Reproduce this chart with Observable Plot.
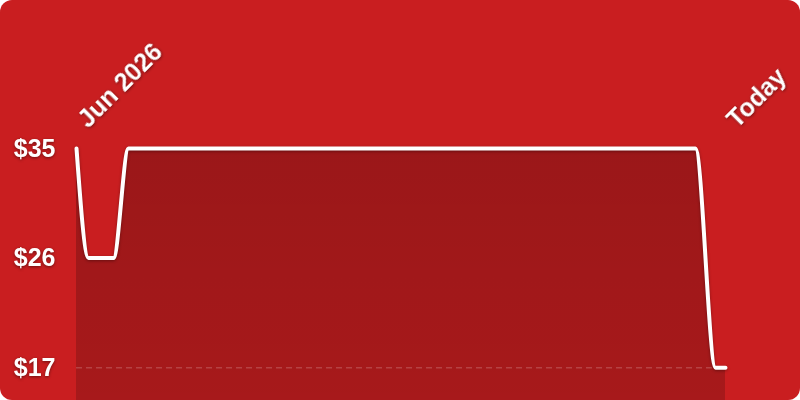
<!DOCTYPE html>
<html>
<head>
<meta charset="utf-8">
<script src="https://cdn.jsdelivr.net/npm/d3@7"></script>
<script src="https://cdn.jsdelivr.net/npm/@observablehq/plot@0.6"></script>
<style>
  html, body { margin: 0; padding: 0; background: #ffffff; overflow: hidden; }
  #card { width: 800px; height: 400px; background: #c91e20; border-radius: 12px; overflow: hidden; position: relative; }
  #card svg { display: block; }
  #card svg text { filter: drop-shadow(0px 1px 1.5px rgba(0,0,0,0.45)); }
  .price-line { filter: drop-shadow(0px 1px 1.5px rgba(0,0,0,0.35)); }
</style>
</head>
<body>
<div id="card"></div>
<script>
// Data (days from start, price in $)
const days = [0, 1.2, 3.7, 5.2, 61.9, 63.9, 64.9];
const prices = [35, 26, 26, 35, 35, 17, 17];
const tickDays = [0, 64.9];
const tickLabels = ["Jun 2026", "Today"];
const yTicks = [17, 26, 35];
const baselinePrice = [17];
const yMin = 14.3;

const data = days.map((d, i) => ({day: d, price: prices[i]}));
const xTicks = tickDays.map((d, i) => ({day: d, label: tickLabels[i], price: 35}));

const chart = Plot.plot({
  width: 800,
  height: 400,
  marginLeft: 76,
  marginRight: 75,
  marginTop: 148,
  marginBottom: 0,
  style: {background: "transparent", color: "white", fontFamily: "'Liberation Sans', Arial, sans-serif"},
  x: {domain: [tickDays[0], tickDays[1]], axis: null},
  y: {domain: [yMin, 35], ticks: yTicks, tickFormat: d => "$" + d, tickSize: 0, tickPadding: 21, label: null},
  marks: [
    Plot.areaY(data, {x: "day", y1: yMin, y2: "price", curve: "monotone-x", fill: "url(#areaGrad)"}),
    Plot.ruleY(baselinePrice, {stroke: "white", strokeOpacity: 0.18, strokeWidth: 1.5, strokeDasharray: "6,4"}),
    Plot.lineY(data, {x: "day", y: "price", curve: "monotone-x", stroke: "white", strokeWidth: 4, className: "price-line"}),
    Plot.axisY({ticks: yTicks, tickFormat: d => "$" + d, tickSize: 0, tickPadding: 21, fontSize: 25, fontWeight: "bold", fill: "white", label: null}),
    Plot.text(xTicks, {x: "day", y: "price", text: "label", rotate: -45, textAnchor: "start", dy: -25, dx: 6, fontSize: 25, fontWeight: "bold", fill: "white"})
  ]
});

// gradient for the area fill
const ns = "http://www.w3.org/2000/svg";
const defs = document.createElementNS(ns, "defs");
const grad = document.createElementNS(ns, "linearGradient");
grad.setAttribute("id", "areaGrad");
grad.setAttribute("x1", "0"); grad.setAttribute("y1", "0");
grad.setAttribute("x2", "0"); grad.setAttribute("y2", "1");
[["0%", 0.23], ["100%", 0.17]].forEach(([off, op]) => {
  const s = document.createElementNS(ns, "stop");
  s.setAttribute("offset", off);
  s.setAttribute("stop-color", "#000");
  s.setAttribute("stop-opacity", op);
  grad.appendChild(s);
});
defs.appendChild(grad);
chart.insertBefore(defs, chart.firstChild);

document.getElementById("card").appendChild(chart);
</script>
</body>
</html>
